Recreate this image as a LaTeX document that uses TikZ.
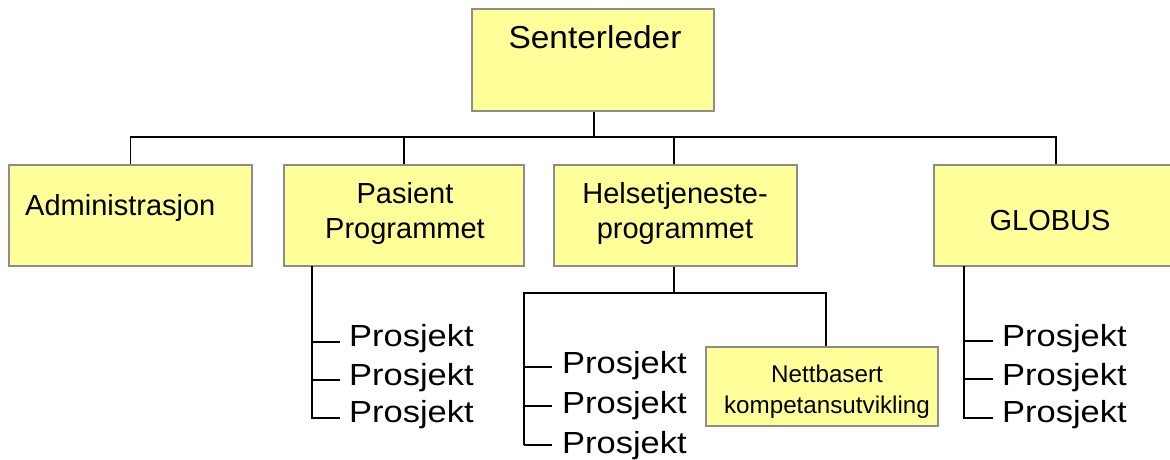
\documentclass[tikz,border=0pt]{standalone}
\usepackage{fontspec}
\usepackage{graphicx}
\setmainfont{Liberation Sans}
\definecolor{boxfill}{RGB}{255,255,153}
\definecolor{boxline}{RGB}{140,140,140}
\newcommand{\wideprj}{\scalebox{1.13}[1]{Prosjekt}}
\begin{document}
\begin{tikzpicture}[x=1pt,y=-1pt,
  orgbox/.style={draw=boxline, fill=boxfill, line width=1.3pt, inner sep=0pt},
  conn/.style={line width=1.6pt, black},
  lbl/.style={inner sep=0pt, align=center, anchor=base},
  big/.style={font=\fontsize{31.7}{38}\selectfont},
  mid/.style={font=\fontsize{29}{35}\selectfont},
  small/.style={font=\fontsize{24.2}{31}\selectfont},
  proj/.style={inner sep=0pt, anchor=base west, font=\fontsize{30.5}{38}\selectfont}]
\useasboundingbox (0,0) rectangle (1170,459);

% boxes
\node[orgbox, minimum width=242pt, minimum height=102pt] (sl) at (593,60) {};
\node[orgbox, minimum width=243pt, minimum height=101pt] (adm) at (130.5,215.5) {};
\node[orgbox, minimum width=240pt, minimum height=101pt] (pas) at (404,215.5) {};
\node[orgbox, minimum width=243pt, minimum height=101pt] (hel) at (675.5,215.5) {};
\node[orgbox, minimum width=244pt, minimum height=101pt] (glo) at (1056,215.5) {};
\node[orgbox, minimum width=232pt, minimum height=79pt] (net) at (822,386.5) {};

% box labels (base anchor = baseline of last line)
\node[lbl, big] (slt) at (595,48) {\scalebox{1.055}[1]{Senterleder}};
\node[lbl, mid, anchor=base west] (admt) at (25,215) {Administrasjon};
\node[lbl, mid] (past) at (405,238) {Pasient\\Programmet};
\node[lbl, mid] (helt) at (675,238) {Helsetjeneste-\\programmet};
\node[lbl, mid] (glot) at (1050,230) {GLOBUS};
\node[lbl, small] (nett) at (827,413) {Nettbasert\\kompetansutvikling};

% top connectors
\coordinate (bus) at (594,137);
\draw[conn] (sl.south -| bus) -- (bus);
\draw[conn] (adm.north) |- (bus) -| (glo.north);
\draw[conn] (pas.north) -- (pas.north |- bus);
\draw[conn] (hel.north -| 674,0) -- (674,137);

% Pasient projects
\node[proj] (pp1) at (349,346) {\wideprj};
\node[proj] (pp2) at (349,385) {\wideprj};
\node[proj] (pp3) at (349,422) {\wideprj};
\coordinate (pv) at (312,266);
\draw[conn] (pv) |- (340,418);
\draw[conn] (312,342) -- (340,342);
\draw[conn] (312,380) -- (340,380);

% Helse projects
\node[proj] (hp1) at (562,373) {\wideprj};
\node[proj] (hp2) at (562,413) {\wideprj};
\node[proj] (hp3) at (562,453) {\wideprj};
\coordinate (hb) at (674,293);
\draw[conn] (hel.south -| hb) -- (hb);
\draw[conn] (524,445) -- (524,293) -- (826,293) -- (net.north -| 826,0);
\draw[conn] (524,445) -- (552,445);
\draw[conn] (524,367) -- (552,367);
\draw[conn] (524,406) -- (552,406);

% GLOBUS projects
\node[proj] (gp1) at (1002,346) {\wideprj};
\node[proj] (gp2) at (1002,385) {\wideprj};
\node[proj] (gp3) at (1002,422) {\wideprj};
\coordinate (gv) at (964,266);
\draw[conn] (gv) |- (993,418);
\draw[conn] (964,341) -- (993,341);
\draw[conn] (964,379) -- (993,379);
\end{tikzpicture}
\end{document}
